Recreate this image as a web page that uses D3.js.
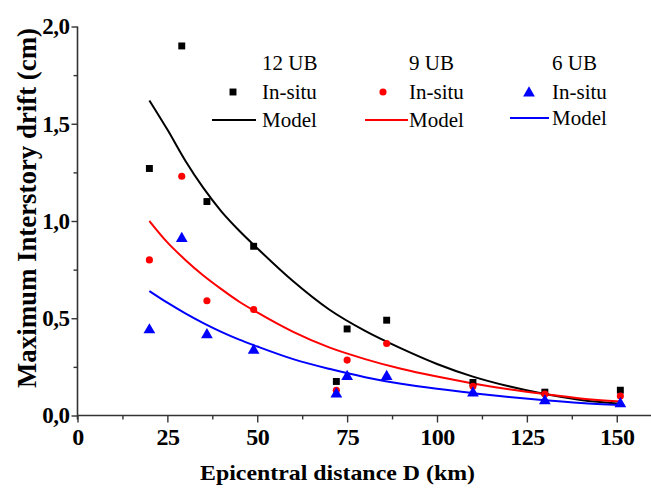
<!DOCTYPE html>
<html><head><meta charset="utf-8">
<script src="https://cdn.jsdelivr.net/npm/d3@7"></script>
<style>
@font-face{font-family:"RefSerif";font-weight:400;src:local("Liberation Serif"),local("LiberationSerif"),local("Liberation Serif Regular"),local("LiberationSerif-Regular");}
@font-face{font-family:"RefSerif";font-weight:700;src:local("Liberation Serif Bold"),local("LiberationSerif-Bold");}
html,body{margin:0;padding:0;background:#fff;}
</style></head>
<body><svg id="c" width="651" height="489"></svg>
<script>
// ---------- data ----------
const seriesNames = ["12 UB", "9 UB", "6 UB"];
const seriesColors = ["#000000", "#ff0000", "#0000ff"];
const insituD = [20, 29, 36, 49, 72, 75, 86, 110, 130, 151];
const insitu12 = [1.27, 1.90, 1.10, 0.87, 0.175, 0.445, 0.49, 0.17, 0.12, 0.13];
const insitu9  = [0.80, 1.23, 0.59, 0.545, 0.13, 0.285, 0.37, 0.15, 0.11, 0.10];
const insitu6  = [0.445, 0.915, 0.42, 0.34, 0.115, 0.205, 0.205, 0.12, 0.08, 0.065];
const modelD   = [20, 25, 30, 35, 40, 45, 50, 60, 70, 80, 90, 100, 110, 120, 130, 140, 151];
const model12  = [1.62, 1.47, 1.31, 1.17, 1.05, 0.95, 0.86, 0.69, 0.545, 0.435, 0.345, 0.265, 0.20, 0.15, 0.11, 0.08, 0.06];
const model9   = [1.00, 0.89, 0.80, 0.72, 0.65, 0.585, 0.53, 0.43, 0.35, 0.29, 0.24, 0.20, 0.165, 0.135, 0.11, 0.088, 0.072];
const model6   = [0.64, 0.58, 0.525, 0.475, 0.43, 0.39, 0.355, 0.29, 0.24, 0.197, 0.163, 0.137, 0.115, 0.095, 0.078, 0.064, 0.054];
const xTicks = [0, 25, 50, 75, 100, 125, 150];
const xMinor = [12.5, 37.5, 62.5, 87.5, 112.5, 137.5];
const yTicks = [0, 0.5, 1.0, 1.5, 2.0];
const yMinor = [0.25, 0.75, 1.25, 1.75];
const xTitle = "Epicentral distance D (km)";
const yTitle = "Maximum Interstory drift (cm)";
const legendSub = ["In-situ", "Model"];

const FONT = '"Liberation Serif", "RefSerif", Tinos, Times';
try { document.fonts.load('bold 24px "Liberation Serif"'); document.fonts.load('21px "Liberation Serif"'); } catch (e) {}

function draw() {
  const svg = d3.select("#c");
  svg.selectAll("*").remove();
  const x = d3.scaleLinear().domain([0, 160]).range([77.5, 652.7]);
  const y = d3.scaleLinear().domain([0, 2]).range([415.5, 26.5]);
  const fmt = d => d3.format(".1f")(d).replace(".", ",");
  const axisColor = "#333";

  const gx = svg.append("g").attr("transform", `translate(0,${y(0)})`);
  gx.call(d3.axisBottom(x).tickValues(xTicks).tickSize(7).tickFormat(d3.format("d")).tickPadding(5));
  gx.append("g").call(d3.axisBottom(x).tickValues(xMinor).tickSize(4).tickFormat(""));
  gx.selectAll(".domain").remove();
  gx.attr("font-family", null).attr("font-size", null);
  gx.append("line").attr("x1", x(0)).attr("x2", 651).attr("stroke", axisColor).attr("stroke-width", 1.6);
  gx.selectAll(".tick line").attr("stroke", axisColor).attr("stroke-width", 1.4);
  gx.selectAll(".tick text").style("font-family", FONT).style("font-size", "24px").style("font-weight", "700")
    .attr("fill", "#000").attr("dy", "0.72em").attr("letter-spacing", -0.5);

  const gy = svg.append("g").attr("transform", `translate(${x(0)},0)`);
  gy.call(d3.axisLeft(y).tickValues(yTicks).tickSize(6).tickFormat(fmt).tickPadding(2));
  gy.append("g").call(d3.axisLeft(y).tickValues(yMinor).tickSize(4).tickFormat(""));
  gy.selectAll(".domain").remove();
  gy.attr("font-family", null).attr("font-size", null);
  gy.append("line").attr("y1", y(2)).attr("y2", y(0) + 4).attr("stroke", axisColor).attr("stroke-width", 1.6);
  gy.selectAll(".tick line").attr("stroke", axisColor).attr("stroke-width", 1.4);
  gy.selectAll(".tick text").style("font-family", FONT).style("font-size", "23px").style("font-weight", "700")
    .attr("fill", "#000").attr("letter-spacing", -0.5);

  svg.append("text").attr("x", 200).attr("y", 480)
    .style("font-family", FONT).style("font-size", "22px").style("font-weight", "700")
    .attr("textLength", 275).attr("lengthAdjust", "spacingAndGlyphs").text(xTitle);
  svg.append("text").attr("transform", "translate(36,208) rotate(-90)").attr("text-anchor", "middle")
    .style("font-family", FONT).style("font-size", "27px").style("font-weight", "700")
    .attr("textLength", 360).attr("lengthAdjust", "spacingAndGlyphs").text(yTitle);

  const models = [model12, model9, model6];
  const line = d3.line().x((d, i) => x(modelD[i])).y(d => y(d)).curve(d3.curveMonotoneX);
  models.forEach((m, k) => {
    svg.append("path").datum(m).attr("d", line).attr("fill", "none")
      .attr("stroke", seriesColors[k]).attr("stroke-width", 2);
  });

  const insitu = [insitu12, insitu9, insitu6];
  const symbols = [d3.symbolSquare, d3.symbolCircle, d3.symbolTriangle];
  const symSizes = [48, 40, 60];
  insitu.forEach((vals, k) => {
    svg.append("g").selectAll("path").data(vals).join("path")
      .attr("transform", (d, i) => `translate(${x(insituD[i])},${y(d) + (k === 2 ? 1 : 0)})`)
      .attr("d", d3.symbol().type(symbols[k]).size(symSizes[k]))
      .attr("fill", seriesColors[k]);
  });

  const legX = [262, 409, 552];
  const legMark = [233, 383, 529];
  const legLine = [[212, 256], [365, 408], [510, 549]];
  seriesNames.forEach((name, k) => {
    const g = svg.append("g");
    const dy = k === 2 ? -2 : 0;
    const txt = (xx, yy, s) => g.append("text").attr("x", xx).attr("y", yy)
      .style("font-family", FONT).style("font-size", "21px").style("font-weight", "400").attr("fill", "#000").text(s);
    txt(legX[k], 70, name);
    g.append("path").attr("transform", `translate(${legMark[k]},${92 + (k === 2 ? 1 : 0)})`)
      .attr("d", d3.symbol().type(symbols[k]).size(symSizes[k]))
      .attr("fill", seriesColors[k]);
    txt(legX[k], 99, legendSub[0]);
    g.append("line").attr("x1", legLine[k][0]).attr("x2", legLine[k][1]).attr("y1", 120 + dy).attr("y2", 120 + dy)
      .attr("stroke", seriesColors[k]).attr("stroke-width", 2.2);
    txt(legX[k], 127 + dy, legendSub[1]);
  });
}
draw();
</script></body></html>
